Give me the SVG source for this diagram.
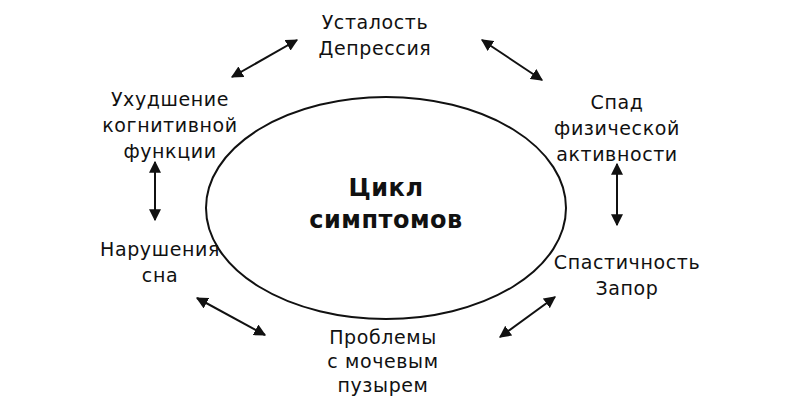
<svg xmlns="http://www.w3.org/2000/svg" width="800" height="400" viewBox="0 0 800 400">
<style>
text{font-family:"DejaVu Sans","Liberation Sans",sans-serif;font-size:19px;letter-spacing:0.6px;fill:#111;text-anchor:middle}
.b{font-weight:bold;font-size:24px;letter-spacing:0.5px}
.c line{stroke:#111;stroke-width:2;marker-start:url(#a);marker-end:url(#a)}
</style>
<defs><marker id="a" viewBox="0 0 10 10" refX="9" refY="5" markerWidth="6" markerHeight="6" orient="auto-start-reverse"><path d="M0,0L10,5L0,10z" fill="#111"/></marker></defs>
<rect width="800" height="400" fill="#fff"/>
<g id="center"><ellipse cx="386" cy="208" rx="180" ry="111" fill="none" stroke="#111" stroke-width="2"/>
<text class="b" x="386" y="196">Цикл</text><text class="b" x="386" y="228">симптомов</text></g>
<g id="n1"><text x="375" y="29">Усталость</text><text x="375" y="55">Депрессия</text></g>
<g id="n2"><text x="617" y="109">Спад</text><text x="617" y="135">физической</text><text x="617" y="161">активности</text></g>
<g id="n3"><text x="627" y="269">Спастичность</text><text x="627" y="295">Запор</text></g>
<g id="n4"><text x="383" y="344">Проблемы</text><text x="383" y="368">с мочевым</text><text x="383" y="392">пузырем</text></g>
<g id="n5"><text x="160" y="256">Нарушения</text><text x="160" y="282">сна</text></g>
<g id="n6"><text x="170" y="106">Ухудшение</text><text x="170" y="132">когнитивной</text><text x="170" y="158">функции</text></g>
<g class="c" id="connectors">
<line x1="232" y1="77" x2="297" y2="40"/>
<line x1="482" y1="40" x2="542" y2="80"/>
<line x1="617" y1="164" x2="617" y2="225"/>
<line x1="555" y1="297" x2="500" y2="337"/>
<line x1="197" y1="298" x2="265" y2="335"/>
<line x1="155" y1="162" x2="155" y2="220"/>
</g>
</svg>
